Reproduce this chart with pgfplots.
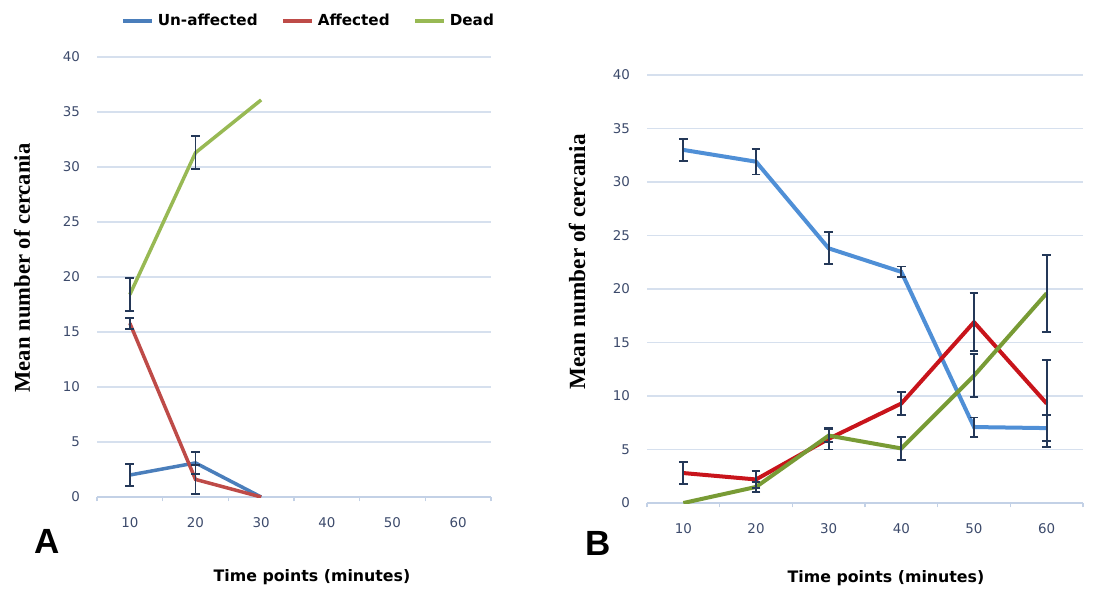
\documentclass[border=0pt]{standalone}
\usepackage{fontspec}
\setmainfont{DejaVu Sans}
\newfontfamily\serifb{Liberation Serif}
\newfontfamily\lsans{Liberation Sans}
\usepackage{pgfplots}
\pgfplotsset{compat=1.18}
\definecolor{blA}{HTML}{4A7EBB}
\definecolor{rdA}{HTML}{BE4B48}
\definecolor{grA}{HTML}{98B954}
\definecolor{blB}{HTML}{4F8FD6}
\definecolor{rdB}{HTML}{C8141B}
\definecolor{grB}{HTML}{789B35}
\definecolor{gridc}{HTML}{D6E0EE}
\definecolor{axc}{HTML}{C3D1E6}
\definecolor{tickc}{HTML}{3C4A6B}
\definecolor{errc}{HTML}{243858}
\pgfplotsset{
  panel/.style={
    scale only axis,
    axis lines*=left,
    y axis line style={draw=none},
    x axis line style={draw=axc, line width=0.8bp},
    ymin=0, ymax=40, ytick={0,5,...,40},
    xmin=0.5, xmax=6.5,
    xtick={1,...,6}, xticklabels={10,20,30,40,50,60},
    minor xtick={0.5,1.5,...,6.5},
    major tick length=0pt,
    minor tick length=2.2bp,
    tick align=outside,
    every minor tick/.style={draw=axc, line width=0.8bp},
    ymajorgrids, grid style={draw=gridc, line width=0.8bp},
    /pgf/number format/assume math mode=true,
    tick label style={font=\fontsize{6.7bp}{8bp}\selectfont, text=tickc},
    xticklabel style={anchor=center, yshift=-13bp},
    yticklabel style={anchor=east, xshift=-5bp},
    no markers,
  },
  errs/.style={forget plot, draw=none,
    error bars/y dir=both,
    error bars/y explicit,
    error bars/error bar style={line width=0.9bp, draw=errc, solid},
    error bars/error mark options={rotate=90, mark size=2.2bp, line width=0.9bp, draw=errc}},
}
\begin{document}
\begin{tikzpicture}
\useasboundingbox (0,0) rectangle (549.5bp,-295.5bp);
% Panel A
\begin{axis}[panel,
  at={(48.5bp,-248.5bp)}, anchor=south west,
  width=197bp, height=220bp,
  legend columns=3,
  legend style={draw=none, fill=none, at={(0.54,1.082)}, anchor=center,
    font=\fontsize{7.6bp}{9bp}\selectfont\bfseries, inner sep=0pt,
    /tikz/every even column/.append style={column sep=10bp}},
  legend cell align=left,
  legend image code/.code={\draw[#1, line width=1.6bp] (0bp,0bp) -- (14.5bp,0bp);},
]
\addplot[blA, line width=1.75bp] coordinates {(1,2.0) (2,3.1) (3,0)};
\addlegendentry{Un-affected}
\addplot[rdA, line width=1.75bp] coordinates {(1,15.8) (2,1.6) (3,0)};
\addlegendentry{Affected}
\addplot[grA, line width=1.75bp] coordinates {(1,18.4) (2,31.3) (3,36.1)};
\addlegendentry{Dead}
\addplot[errs] coordinates {(1,2.0) +- (0,1.0) (2,3.1) +- (0,1.0)};
\addplot[errs] coordinates {(1,15.8) +- (0,0.5) (2,1.6) +- (0,1.3)};
\addplot[errs] coordinates {(1,18.4) +- (0,1.5) (2,31.3) +- (0,1.5)};
\end{axis}
% Panel B
\begin{axis}[panel,
  at={(323.5bp,-251.5bp)}, anchor=south west,
  width=218bp, height=214bp,
]
\addplot[blB, line width=2bp] coordinates {(1,33.0) (2,31.9) (3,23.8) (4,21.6) (5,7.1) (6,7.0)};
\addplot[rdB, line width=2bp] coordinates {(1,2.8) (2,2.2) (3,6.0) (4,9.3) (5,16.9) (6,9.3)};
\addplot[grB, line width=2bp] coordinates {(1,0) (2,1.5) (3,6.3) (4,5.1) (5,11.9) (6,19.6)};
\addplot[errs] coordinates {(1,33.0) +- (0,1.0) (2,31.9) +- (0,1.2) (3,23.8) +- (0,1.5) (4,21.6) +- (0,0.5) (5,7.1) +- (0,0.9) (6,7.0) +- (0,1.2)};
\addplot[errs] coordinates {(1,2.8) +- (0,1.0) (2,2.2) +- (0,0.8) (3,6.0) +- (0,1.0) (4,9.3) +- (0,1.1) (5,16.9) +- (0,2.7) (6,9.3) +- (0,4.1)};
\addplot[errs] coordinates {(2,1.5) +- (0,0.5) (3,6.3) +- (0,0.6) (4,5.1) +- (0,1.1) (5,11.9) +- (0,2.0) (6,19.6) +- (0,3.6)};
\end{axis}
% labels
\node[rotate=90, font=\serifb\bfseries\fontsize{11.3bp}{13bp}\selectfont] at (11bp,-134bp) {Mean number of cercania};
\node[rotate=90, font=\serifb\bfseries\fontsize{11.6bp}{13bp}\selectfont] at (288.5bp,-131bp) {Mean number of cercania};
\node[font=\bfseries\fontsize{7.9bp}{9bp}\selectfont] at (156bp,-288.5bp) {Time points (minutes)};
\node[font=\bfseries\fontsize{7.9bp}{9bp}\selectfont] at (443bp,-289bp) {Time points (minutes)};
\node[font=\lsans\bfseries\fontsize{17.5bp}{20bp}\selectfont] at (23.5bp,-270.5bp) {A};
\node[font=\lsans\bfseries\fontsize{17.5bp}{20bp}\selectfont] at (299bp,-271.5bp) {B};
\end{tikzpicture}
\end{document}
